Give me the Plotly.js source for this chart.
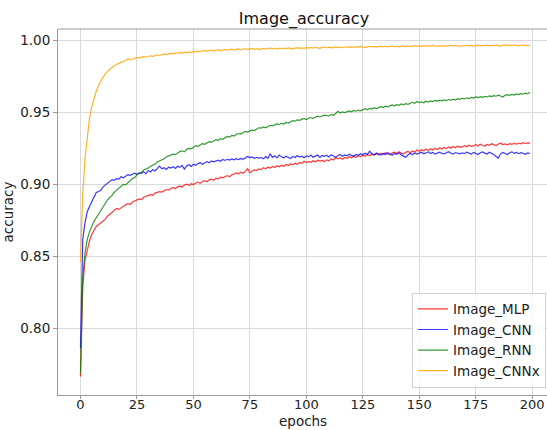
<!DOCTYPE html>
<html>
<head>
<meta charset="utf-8">
<script src="https://cdn.plot.ly/plotly-3.0.1.min.js"></script>
<style>html,body{margin:0;padding:0;background:#fff;}#chart{width:547px;height:430px;}</style>
</head>
<body>
<div id="chart"></div>
<script>
const seriesNames = ["Image_MLP", "Image_CNN", "Image_RNN", "Image_CNNx"];

const mlp = [
0.7668,0.8290,0.8475,0.8552,0.8610,0.8655,0.8688,0.8710,0.8722,0.8735,
0.8748,0.8760,0.8781,0.8795,0.8808,0.8822,0.8835,0.8828,0.8840,0.8852,
0.8860,0.8868,0.8862,0.8880,0.8889,0.8895,0.8901,0.8897,0.8912,0.8918,
0.8922,0.8930,0.8926,0.8941,0.8946,0.8952,0.8948,0.8960,0.8966,0.8962,
0.8975,0.8979,0.8972,0.8986,0.8990,0.8984,0.8997,0.9003,0.8995,0.9006,
0.9001,0.9012,0.9018,0.9009,0.9022,0.9028,0.9020,0.9033,0.9038,0.9030,
0.9045,0.9040,0.9052,0.9047,0.9058,0.9063,0.9055,0.9068,0.9074,0.9081,
0.9075,0.9086,0.9079,0.9092,0.9112,0.9082,0.9095,0.9102,0.9098,0.9110,
0.9104,0.9118,0.9110,0.9122,0.9115,0.9126,0.9119,0.9131,0.9124,0.9135,
0.9128,0.9140,0.9133,0.9145,0.9138,0.9149,0.9142,0.9155,0.9148,0.9162,
0.9153,0.9160,0.9155,0.9166,0.9158,0.9170,0.9163,0.9168,0.9160,0.9172,
0.9166,0.9178,0.9171,0.9190,0.9180,0.9186,0.9177,0.9189,0.9183,0.9194,
0.9186,0.9197,0.9190,0.9201,0.9193,0.9205,0.9197,0.9210,0.9201,0.9213,
0.9205,0.9215,0.9208,0.9218,0.9210,0.9222,0.9213,0.9208,0.9219,0.9225,
0.9216,0.9228,0.9219,0.9212,0.9224,0.9231,0.9222,0.9234,0.9226,0.9240,
0.9232,0.9243,0.9235,0.9247,0.9238,0.9250,0.9241,0.9253,0.9244,0.9256,
0.9247,0.9258,0.9250,0.9262,0.9253,0.9265,0.9256,0.9268,0.9259,0.9262,
0.9271,0.9263,0.9274,0.9266,0.9269,0.9277,0.9270,0.9281,0.9272,0.9268,
0.9279,0.9273,0.9284,0.9276,0.9271,0.9282,0.9288,0.9278,0.9283,0.9276,
0.9285,0.9280,0.9287,0.9281,0.9289,0.9284,0.9291,0.9286,0.9290,0.9288
];

const cnn = [
0.7862,0.8620,0.8735,0.8812,0.8848,0.8880,0.8918,0.8945,0.8952,0.8960,
0.8985,0.8998,0.9012,0.9020,0.9035,0.9030,0.9042,0.9038,0.9055,0.9048,
0.9062,0.9070,0.9065,0.9073,0.9079,0.9072,0.9081,0.9078,0.9090,0.9075,
0.9098,0.9088,0.9105,0.9095,0.9112,0.9128,0.9110,0.9118,0.9106,0.9121,
0.9115,0.9125,0.9112,0.9128,0.9120,0.9133,0.9108,0.9130,0.9138,0.9127,
0.9142,0.9135,0.9146,0.9153,0.9141,0.9150,0.9160,0.9152,0.9165,0.9158,
0.9163,0.9170,0.9162,0.9175,0.9168,0.9176,0.9171,0.9179,0.9172,0.9180,
0.9174,0.9182,0.9176,0.9185,0.9196,0.9188,0.9192,0.9183,0.9190,0.9185,
0.9188,0.9179,0.9195,0.9183,0.9214,0.9190,0.9201,0.9186,0.9205,0.9193,
0.9185,0.9198,0.9190,0.9182,0.9195,0.9188,0.9201,0.9192,0.9198,0.9187,
0.9200,0.9193,0.9205,0.9190,0.9198,0.9206,0.9189,0.9202,0.9196,0.9204,
0.9192,0.9207,0.9199,0.9188,0.9203,0.9210,0.9197,0.9206,0.9200,0.9212,
0.9203,0.9198,0.9210,0.9204,0.9215,0.9207,0.9218,0.9210,0.9232,0.9215,
0.9208,0.9220,0.9212,0.9205,0.9216,0.9209,0.9221,0.9213,0.9204,0.9217,
0.9210,0.9222,0.9206,0.9198,0.9190,0.9207,0.9216,0.9209,0.9220,0.9212,
0.9218,0.9225,0.9214,0.9221,0.9228,0.9216,0.9224,0.9212,0.9220,0.9226,
0.9217,0.9213,0.9222,0.9229,0.9218,0.9212,0.9223,0.9216,0.9214,0.9221,
0.9215,0.9226,0.9218,0.9212,0.9224,0.9217,0.9209,0.9222,0.9228,0.9219,
0.9213,0.9225,0.9218,0.9210,0.9196,0.9185,0.9214,0.9223,0.9216,0.9209,
0.9221,0.9228,0.9217,0.9224,0.9215,0.9222,0.9218,0.9211,0.9220,0.9216
];

const rnn = [
0.7690,0.8350,0.8525,0.8620,0.8672,0.8712,0.8745,0.8770,0.8795,0.8822,
0.8850,0.8878,0.8895,0.8912,0.8925,0.8948,0.8962,0.8978,0.8990,0.9002,
0.8998,0.9015,0.9030,0.9042,0.9050,0.9068,0.9078,0.9085,0.9102,0.9108,
0.9115,0.9128,0.9135,0.9142,0.9158,0.9165,0.9175,0.9180,0.9192,0.9198,
0.9205,0.9212,0.9208,0.9222,0.9230,0.9235,0.9228,0.9245,0.9252,0.9248,
0.9262,0.9270,0.9266,0.9278,0.9285,0.9280,0.9292,0.9298,0.9295,0.9305,
0.9312,0.9308,0.9320,0.9315,0.9328,0.9335,0.9330,0.9342,0.9338,0.9350,
0.9355,0.9351,0.9362,0.9370,0.9365,0.9372,0.9380,0.9376,0.9388,0.9395,
0.9392,0.9401,0.9395,0.9405,0.9412,0.9408,0.9415,0.9422,0.9418,0.9426,
0.9421,0.9432,0.9428,0.9438,0.9445,0.9441,0.9450,0.9446,0.9455,0.9458,
0.9452,0.9461,0.9466,0.9460,0.9471,0.9476,0.9470,0.9478,0.9483,0.9480,
0.9476,0.9488,0.9482,0.9494,0.9510,0.9498,0.9505,0.9500,0.9508,0.9512,
0.9506,0.9515,0.9510,0.9518,0.9513,0.9522,0.9527,0.9520,0.9530,0.9525,
0.9534,0.9528,0.9537,0.9542,0.9536,0.9545,0.9540,0.9548,0.9553,0.9547,
0.9556,0.9551,0.9560,0.9555,0.9563,0.9558,0.9566,0.9572,0.9565,0.9578,
0.9570,0.9575,0.9568,0.9579,0.9574,0.9582,0.9577,0.9585,0.9580,0.9587,
0.9582,0.9589,0.9584,0.9591,0.9586,0.9594,0.9589,0.9597,0.9592,0.9600,
0.9595,0.9603,0.9598,0.9606,0.9601,0.9609,0.9604,0.9611,0.9606,0.9613,
0.9609,0.9616,0.9611,0.9618,0.9614,0.9621,0.9616,0.9609,0.9620,0.9625,
0.9620,0.9627,0.9622,0.9630,0.9625,0.9632,0.9628,0.9635,0.9630,0.9642
];

const cnnx = [
0.8463,0.8930,0.9180,0.9345,0.9460,0.9540,0.9600,0.9650,0.9688,0.9720,
0.9748,0.9770,0.9788,0.9802,0.9815,0.9828,0.9836,0.9842,0.9850,0.9856,
0.9860,0.9875,0.9866,0.9870,0.9878,0.9882,0.9880,0.9886,0.9889,0.9885,
0.9892,0.9895,0.9891,0.9898,0.9902,0.9897,0.9905,0.9908,0.9903,0.9910,
0.9912,0.9908,0.9915,0.9911,0.9918,0.9914,0.9920,0.9916,0.9922,0.9919,
0.9925,0.9921,0.9927,0.9923,0.9929,0.9932,0.9926,0.9931,0.9935,0.9929,
0.9933,0.9937,0.9930,0.9935,0.9939,0.9934,0.9938,0.9941,0.9936,0.9940,
0.9943,0.9937,0.9941,0.9945,0.9939,0.9943,0.9946,0.9940,0.9944,0.9938,
0.9942,0.9946,0.9941,0.9945,0.9949,0.9943,0.9947,0.9942,0.9948,0.9944,
0.9949,0.9945,0.9950,0.9946,0.9942,0.9948,0.9951,0.9946,0.9950,0.9947,
0.9952,0.9948,0.9953,0.9949,0.9954,0.9950,0.9947,0.9953,0.9956,0.9951,
0.9955,0.9950,0.9954,0.9957,0.9952,0.9956,0.9951,0.9955,0.9958,0.9953,
0.9957,0.9953,0.9958,0.9955,0.9960,0.9956,0.9952,0.9957,0.9961,0.9956,
0.9960,0.9955,0.9959,0.9962,0.9957,0.9961,0.9956,0.9960,0.9963,0.9958,
0.9962,0.9957,0.9961,0.9964,0.9959,0.9963,0.9958,0.9962,0.9965,0.9960,
0.9964,0.9960,0.9966,0.9961,0.9965,0.9962,0.9967,0.9963,0.9960,0.9965,
0.9962,0.9966,0.9961,0.9965,0.9968,0.9963,0.9967,0.9964,0.9960,0.9966,
0.9963,0.9968,0.9964,0.9967,0.9962,0.9966,0.9969,0.9964,0.9968,0.9965,
0.9969,0.9964,0.9968,0.9965,0.9970,0.9966,0.9962,0.9967,0.9970,0.9966,
0.9969,0.9965,0.9970,0.9967,0.9964,0.9968,0.9971,0.9966,0.9969,0.9967
];

const seriesValues = [mlp, cnn, rnn, cnnx];
const seriesColors = ["rgba(255,0,0,0.78)", "rgba(0,0,255,0.78)", "rgba(0,128,0,0.8)", "rgba(255,165,0,0.85)"];
const epochs = mlp.map((_, i) => i);

const traces = seriesValues.map((vals, k) => ({
  x: epochs,
  y: vals,
  type: "scatter",
  mode: "lines",
  name: seriesNames[k],
  line: { color: seriesColors[k], width: 1.2 }
}));

const fontFam = "DejaVu Sans, sans-serif";
const spine = "#9a9a9a";

const layout = {
  width: 547,
  height: 430,
  paper_bgcolor: "#ffffff",
  plot_bgcolor: "#ffffff",
  margin: { l: 58, r: 0, t: 29, b: 35 },
  font: { family: fontFam, size: 13.5, color: "#222222" },
  title: {
    text: "Image_accuracy",
    font: { family: fontFam, size: 16, color: "#111111" },
    x: 0.503, xref: "paper", xanchor: "center",
    y: 0.958, yref: "container", yanchor: "middle"
  },
  xaxis: {
    range: [-9.95, 206.55],
    tickvals: [0, 25, 50, 75, 100, 125, 150, 175, 200],
    showgrid: true,
    gridcolor: "#dadada",
    gridwidth: 1,
    zeroline: false,
    showline: true,
    linecolor: spine,
    linewidth: 1,
    ticks: "outside",
    ticklen: 3,
    tickcolor: spine,
    ticklabelstandoff: -6,
    tickfont: { size: 13, color: "#222222" }
  },
  yaxis: {
    range: [0.7539, 1.0081],
    tickvals: [0.80, 0.85, 0.90, 0.95, 1.00],
    ticktext: ["0.80", "0.85", "0.90", "0.95", "1.00"],
    showgrid: true,
    gridcolor: "#dadada",
    gridwidth: 1,
    zeroline: false,
    showline: true,
    linecolor: spine,
    linewidth: 1,
    ticks: "outside",
    ticklen: 4,
    tickcolor: spine,
    tickfont: { size: 13.5, color: "#222222" },
    title: { text: "accuracy", font: { size: 13.5, color: "#222222" }, standoff: 4 }
  },
  annotations: [
    { text: "epochs", xref: "paper", yref: "paper", x: 0.5, y: -0.0945,
      xanchor: "center", yanchor: "bottom", showarrow: false, borderpad: 0,
      font: { family: fontFam, size: 13.5, color: "#222222" } }
  ],
  shapes: [
    { type: "line", xref: "paper", yref: "paper", x0: 0, x1: 1, y0: 1, y1: 1,
      line: { color: spine, width: 1 } }
  ],
  legend: {
    x: 0.998, xanchor: "right",
    y: 0.02, yanchor: "bottom",
    bgcolor: "rgba(255,255,255,0.85)",
    bordercolor: "#d0d0d0",
    borderwidth: 1,
    font: { family: fontFam, size: 13.5, color: "#222222" },
    tracegroupgap: 0,
    itemwidth: 30
  },
  showlegend: true
};

Plotly.newPlot("chart", traces, layout, { displayModeBar: false, staticPlot: true });
</script>
</body>
</html>
